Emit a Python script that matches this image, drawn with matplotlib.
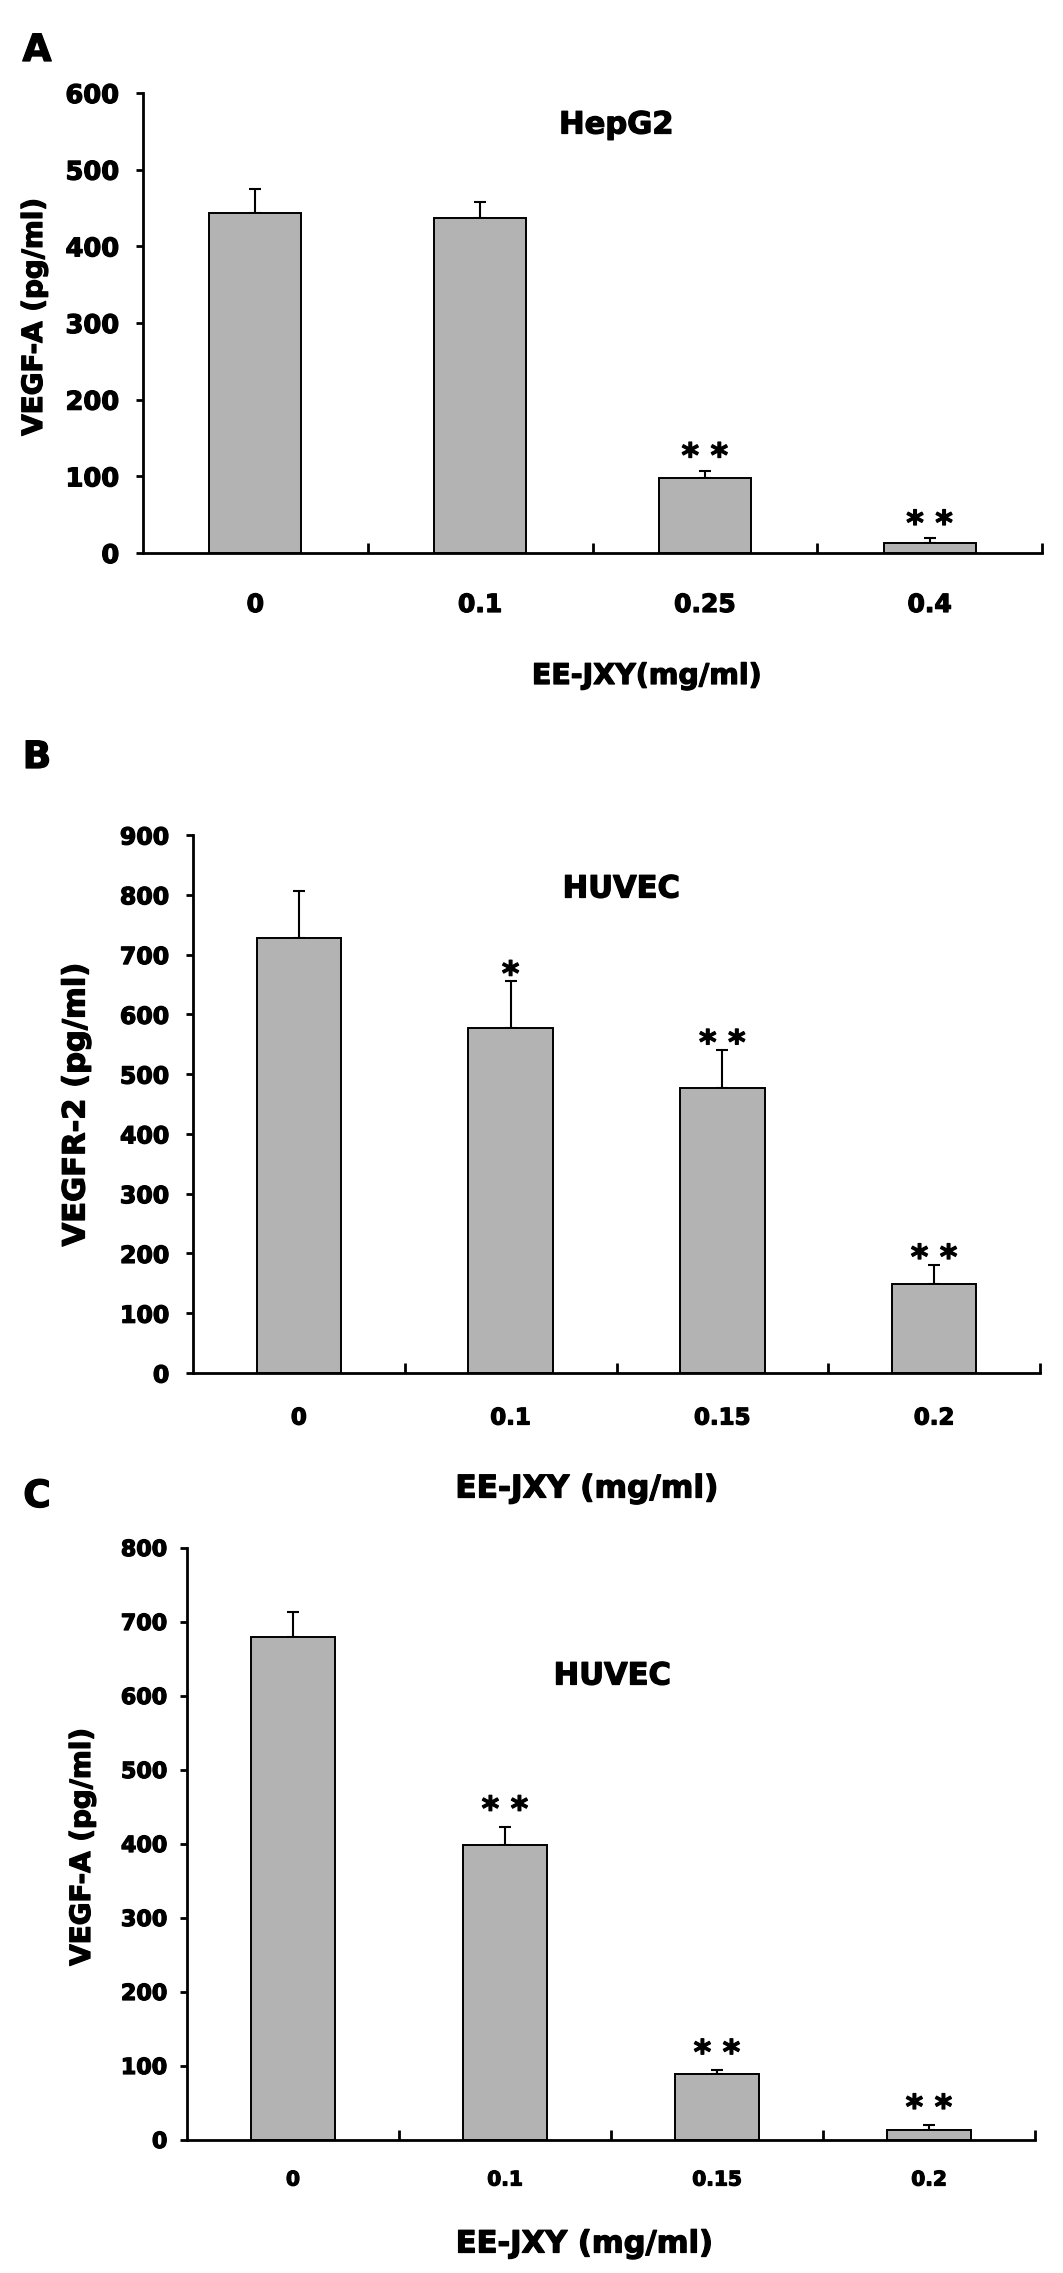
import matplotlib
matplotlib.use("Agg")
import matplotlib.pyplot as plt
import matplotlib.patheffects as pe

plt.rcParams['font.family'] = ['DejaVu Sans']
plt.rcParams['font.weight'] = 'bold'

# ---------------- data ----------------
categories_A = ["0", "0.1", "0.25", "0.4"]
values_A = [444, 437, 98, 13]
errors_A = [31, 21, 9, 6]
sig_A = ["", "", "**", "**"]

categories_B = ["0", "0.1", "0.15", "0.2"]
values_B = [727, 577, 477, 149]
errors_B = [80, 78, 63, 32]
sig_B = ["", "*", "**", "**"]

categories_C = ["0", "0.1", "0.15", "0.2"]
values_C = [680, 399, 89, 14]
errors_C = [33, 24, 5, 6]
sig_C = ["", "**", "**", "**"]

yticks_A = [0, 100, 200, 300, 400, 500, 600]
yticks_B = [0, 100, 200, 300, 400, 500, 600, 700, 800, 900]
yticks_C = [0, 100, 200, 300, 400, 500, 600, 700, 800]

# ---------------- layout ----------------
W, H = 1063, 2273
fig = plt.figure(figsize=(W / 100, H / 100), dpi=100)
heavy = [pe.withStroke(linewidth=0.9, foreground="black")]


def fx(px):
    return px / W


def fy(py):
    return 1 - py / H


panels = [
    dict(letter="A", cats=categories_A, vals=values_A, errs=errors_A, sig=sig_A,
         yticks=yticks_A, ylabel="VEGF-A (pg/ml)", xlabel="EE-JXY(mg/ml)", title="HepG2",
         box=(143, 93, 1042, 553), letter_xy=(37, 51), title_xy=(616, 125),
         xlabel_xy=(647, 676), ylabel_xy=(34, 317), xtick_y=605,
         ytfs=18.5, xtfs=18, xlfs=20.5, ylfs=20, tfs=22, width=0.41, ypad=12, star_off=3),
    dict(letter="B", cats=categories_B, vals=values_B, errs=errors_B, sig=sig_B,
         yticks=yticks_B, ylabel="VEGFR-2 (pg/ml)", xlabel="EE-JXY (mg/ml)", title="HUVEC",
         box=(193, 835, 1040, 1373), letter_xy=(37, 758), title_xy=(621, 889),
         xlabel_xy=(587, 1489), ylabel_xy=(76, 1105), xtick_y=1418,
         ytfs=17, xtfs=16.5, xlfs=22.5, ylfs=22, tfs=22, width=0.40, ypad=12, star_off=-2.5),
    dict(letter="C", cats=categories_C, vals=values_C, errs=errors_C, sig=sig_C,
         yticks=yticks_C, ylabel="VEGF-A (pg/ml)", xlabel="EE-JXY (mg/ml)", title="HUVEC",
         box=(187, 1548, 1035, 2140), letter_xy=(37, 1497), title_xy=(612, 1676),
         xlabel_xy=(584, 2244), ylabel_xy=(82, 1847), xtick_y=2180,
         ytfs=16, xtfs=14.5, xlfs=22, ylfs=20, tfs=22, width=0.40, ypad=9, star_off=5),
]

for p in panels:
    l, t, r, b = p["box"]
    ax = fig.add_axes([fx(l), fy(b), fx(r) - fx(l), fy(t) - fy(b)])
    n = len(p["cats"])
    xs = list(range(n))
    ax.bar(xs, p["vals"], width=p["width"], color="#b3b3b3", edgecolor="black",
           linewidth=1.4, zorder=3)
    ax.errorbar(xs, p["vals"], yerr=[[0] * n, p["errs"]], fmt="none", ecolor="black",
                elinewidth=1.5, capsize=4.5, capthick=1.5, zorder=2)
    for i in range(n):
        if p["sig"][i]:
            ax.annotate(" ".join(p["sig"][i]), xy=(xs[i], p["vals"][i] + p["errs"][i]),
                        xytext=(0, p["star_off"]), textcoords="offset points", ha="center",
                        va="baseline", fontsize=24, fontweight="bold", path_effects=heavy)
    ax.set_xlim(-0.5, n - 0.5)
    ax.set_ylim(0, p["yticks"][-1])
    ax.set_yticks(p["yticks"])
    ax.set_yticklabels([str(v) for v in p["yticks"]], fontsize=p["ytfs"], fontweight="bold")
    for lab in ax.get_yticklabels():
        lab.set_path_effects(heavy)
    ax.tick_params(axis="y", direction="out", length=5, width=2, pad=p["ypad"])
    ax.set_xticks([i + 0.5 for i in range(n)])
    ax.set_xticklabels([])
    ax.tick_params(axis="x", direction="in", length=7, width=2)
    for s in ["top", "right"]:
        ax.spines[s].set_visible(False)
    for s in ["left", "bottom"]:
        ax.spines[s].set_linewidth(2)
    ax.set_facecolor("none")
    # category labels
    for i, c in enumerate(p["cats"]):
        disp = ax.transData.transform((xs[i], 0))
        fig.text(disp[0] / W, fy(p["xtick_y"]), c, ha="center", va="center",
                 fontsize=p["xtfs"], fontweight="bold", path_effects=heavy)
    fig.text(fx(p["letter_xy"][0]), fy(p["letter_xy"][1]), p["letter"], ha="center",
             va="center", fontsize=27, fontweight="bold", path_effects=heavy)
    fig.text(fx(p["title_xy"][0]), fy(p["title_xy"][1]), p["title"], ha="center",
             va="center", fontsize=p["tfs"], fontweight="bold", path_effects=heavy)
    fig.text(fx(p["xlabel_xy"][0]), fy(p["xlabel_xy"][1]), p["xlabel"], ha="center",
             va="center", fontsize=p["xlfs"], fontweight="bold", path_effects=heavy)
    fig.text(fx(p["ylabel_xy"][0]), fy(p["ylabel_xy"][1]), p["ylabel"], ha="center",
             va="center", rotation=90, fontsize=p["ylfs"], fontweight="bold",
             path_effects=heavy)

fig.savefig("out.png", dpi=100, facecolor="white")
